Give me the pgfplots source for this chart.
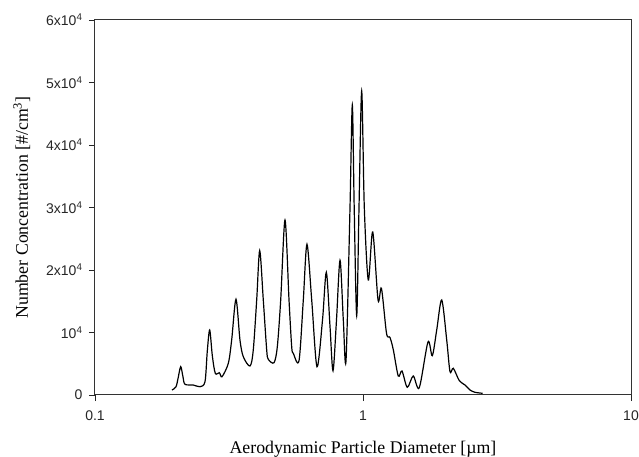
\documentclass[border=0pt]{standalone}
\usepackage{pgfplots}
\pgfplotsset{compat=1.18}
\usepackage{fontspec}
\setmainfont{Liberation Serif}
\newfontfamily\arialfont{Liberation Sans}
\begin{document}
\begin{tikzpicture}[x=1pt,y=1pt]
\begin{axis}[
  at={(0,0)}, anchor=south west, scale only axis,
  width=536pt, height=375pt,
  xmode=log, xmin=0.1, xmax=10, ymin=0, ymax=60000,
  xtick={0.1,1,10}, xticklabels={0.1,1,10},
  xminorticks=false,
  ytick={0,10000,20000,30000,40000,50000,60000},
  yticklabels={0,10\textsuperscript{4},2x10\textsuperscript{4},3x10\textsuperscript{4},4x10\textsuperscript{4},5x10\textsuperscript{4},6x10\textsuperscript{4}},
  scaled y ticks=false,
  tick align=outside, tick pos=left,
  major tick length=6pt,
  tick style={black!85, line width=0.9pt},
  axis line style={black!80, line width=1pt},
  tick label style={font=\arialfont\fontsize{14}{16}\selectfont, black!85},
  yticklabel style={xshift=-3pt},
  xticklabel style={yshift=-6pt},
  xlabel={Aerodynamic Particle Diameter [\textmu m]},
  ylabel={Number Concentration [\#/cm\textsuperscript{3}]},
  every axis x label/.style={at={(axis description cs:0.5,-0.1573)}, anchor=base, font=\fontsize{17.8}{20}\selectfont},
  every axis y label/.style={at={(axis description cs:-0.125,0.5)}, rotate=90, anchor=base, font=\fontsize{17.8}{20}\selectfont},
]
\addplot[black, line width=1.2pt, smooth, tension=0.5] coordinates {
(0.1938,800) (0.2005,1300) (0.2040,2600) (0.2088,4528) (0.2130,2900) (0.2167,1712)
(0.2327,1600) (0.2465,1328) (0.2573,2128) (0.2624,7000) (0.2679,10400) (0.2740,6300)
(0.2811,3472) (0.2910,3568) (0.2978,2928) (0.3144,5072) (0.3236,8800) (0.3358,15312)
(0.3475,8800) (0.3576,6128) (0.3788,4640) (0.3896,7200) (0.4012,15200) (0.4117,23088)
(0.4246,15200) (0.4372,7200) (0.4432,5712) (0.4655,5168) (0.4789,7700) (0.4931,15200)
(0.5117,28000) (0.5296,15200) (0.5420,7700) (0.5495,6672) (0.5771,5488) (0.5988,15200)
(0.6180,24112) (0.6437,15200) (0.6735,4528) (0.7063,12000) (0.7298,19632) (0.7533,11000)
(0.7730,3888) (0.7965,12000) (0.8209,21552) (0.8444,12000) (0.8643,5520) (0.8944,30000)
(0.9123,46400) (0.9272,30000) (0.9473,12688) (0.9663,30000) (0.9888,48640) (1.0113,30000)
(1.0466,18400) (1.087,26080) (1.138,15200) (1.172,17040) (1.224,9872) (1.261,9200)
(1.298,7200) (1.354,3040) (1.398,3840) (1.463,1232) (1.540,3040) (1.622,1168)
(1.748,8480) (1.814,6288) (1.884,10400) (1.967,15200) (2.053,8800) (2.112,3728)
(2.173,4272) (2.288,2288) (2.402,1600) (2.508,800) (2.618,432) (2.796,272)
};
\end{axis}
\pgfresetboundingbox
\useasboundingbox (-95,-62) rectangle (544,395);
\end{tikzpicture}
\end{document}
